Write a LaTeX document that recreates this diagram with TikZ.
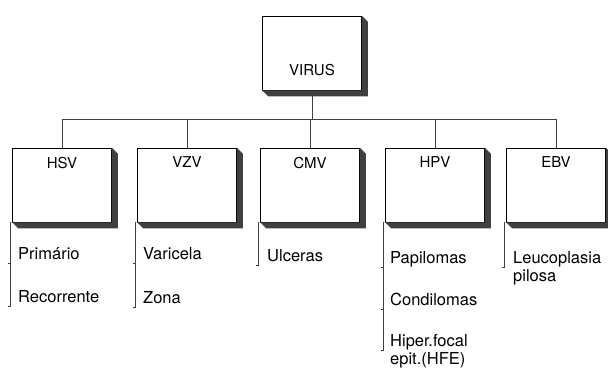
\documentclass[tikz,border=0pt]{standalone}
\usepackage{fontspec}
\setmainfont{TeX Gyre Heros}
\usetikzlibrary{positioning}
\begin{document}
\begin{tikzpicture}[x=1pt,y=-1pt]
	\tikzset{
		vbox/.style={draw, fill=white, minimum width=99pt, minimum height=74pt, inner sep=0pt, line width=0.6pt},
		vtitle/.style={font=\fontsize{15}{18}\selectfont, inner sep=0pt},
		item/.style={font=\fontsize{16.5}{18}\selectfont, inner sep=0pt, anchor=base west, align=left},
		wire/.style={line width=0.5pt, draw=black!75}
	}
	\useasboundingbox (0,0) rectangle (608,369);

	% top box
	\draw node[vbox] (virus) at (312,53) {};
	\draw node[vtitle, above=14pt of virus.south] (virust) {VIRUS};

	% the five families
	\foreach \n/\x/\t in {hsv/62/HSV, vzv/187/VZV, cmv/310/CMV, hpv/435/HPV, ebv/556/EBV}{
		\draw node[vbox] (\n) at (\x,185) {};
		\draw node[vtitle, below=9pt of \n.north] (\n t) {\t};
	}

	% dark sides of the boxes
	\foreach \n in {virus,hsv,vzv,cmv,hpv,ebv}{
		\fill[black!75] (\n.north east) -- ([xshift=6pt,yshift=-6pt]\n.north east)
			-- ([xshift=6pt,yshift=-6pt]\n.south east) -- ([xshift=6pt,yshift=-6pt]\n.south west)
			-- (\n.south west) -- (\n.south east) -- cycle;
	}

	\coordinate (bus) at (312,119);
	\draw[wire] ([yshift=-6pt]virus.south) -- (bus);
	\draw[wire] (hsv.north |- bus) -- (ebv.north |- bus);
	\foreach \n in {hsv,vzv,cmv,hpv,ebv}
		\draw[wire] (\n.north |- bus) -- (\n.north);

	% items (base = last line)
	\draw node[item] (hsv1) at (18,259) {Primário};
	\draw node[item] (hsv2) at (18,302) {Recorrente};
	\draw node[item] (vzv1) at (143,259) {Varicela};
	\draw node[item] (vzv2) at (143,303) {Zona};
	\draw node[item] (cmv1) at (267,261) {Ulceras};
	\draw node[item] (hpv1) at (390,263) {Papilomas};
	\draw node[item] (hpv2) at (390,305) {Condilomas};
	\draw node[item] (hpv3) at (390,364) {Hiper.focal\\epit.(HFE)};
	\draw node[item] (ebv1) at (513,281) {Leucoplasia\\pilosa};

	% brackets on the left of the items
	\foreach \b/\i/\s in {hsv/hsv1/-4, hsv/hsv2/-4, vzv/vzv1/-4, vzv/vzv2/-4, cmv/cmv1/-4,
		hpv/hpv1/-4, hpv/hpv2/-4, hpv/hpv3/14, ebv/ebv1/14}{
		\coordinate (\i e) at ([yshift=\s pt]\i.base west);
		\draw[wire] ([xshift=-1.5pt]\b.south west |- \i e) -- ++(-3,0);
	}
	\foreach \b/\i in {hsv/hsv2, vzv/vzv2, cmv/cmv1, hpv/hpv3, ebv/ebv1}
		\draw[wire] ([xshift=-1.5pt]\b.south west) -- ([xshift=-1.5pt]\b.south west |- \i e);
\end{tikzpicture}
\end{document}
